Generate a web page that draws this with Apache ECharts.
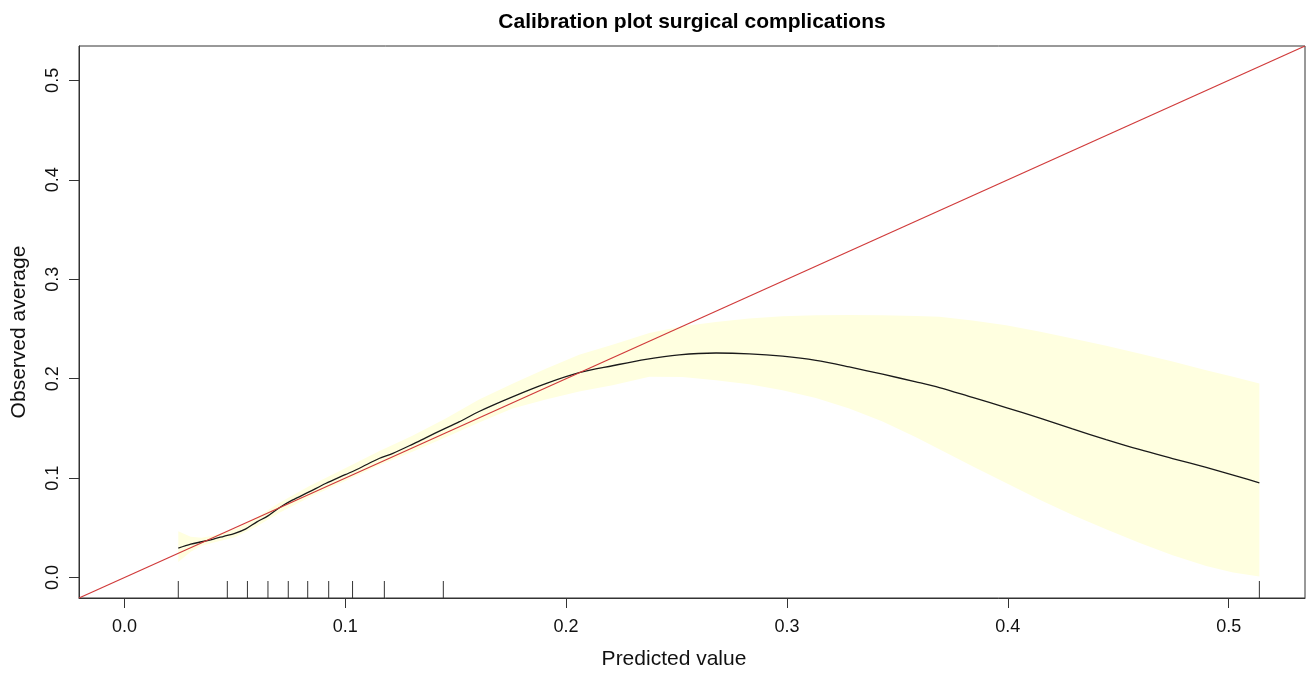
<!DOCTYPE html>
<html>
<head>
<meta charset="utf-8">
<script src="https://cdn.jsdelivr.net/npm/echarts@6/dist/echarts.min.js"></script>
<style>
  html, body { margin: 0; padding: 0; background: #fff; }
  #chart { width: 1311px; height: 674px; }
</style>
</head>
<body>
<div id="chart"></div>
<script>
// Axis limits (same on both axes) and tick labels
const axisMin = -0.02056;
const axisMax = 0.53456;
const tickValues = [0, 0.1, 0.2, 0.3, 0.4, 0.5];
const tickLabels = ['0.0', '0.1', '0.2', '0.3', '0.4', '0.5'];

// Smoothed calibration curve
const curveX = [0.0244, 0.0300, 0.0350, 0.0400, 0.0450, 0.0500, 0.0550, 0.0600, 0.0650, 0.0700,
  0.0760, 0.0836, 0.0911, 0.1000, 0.1062, 0.1153, 0.1213, 0.1304, 0.1364, 0.1455, 0.1515,
  0.1606, 0.1757, 0.1908, 0.2059, 0.2210, 0.2361, 0.2512, 0.2679, 0.2829, 0.2980, 0.3131,
  0.3282, 0.3433, 0.3584, 0.3690, 0.3840, 0.3992, 0.4142, 0.4293, 0.4445, 0.4595, 0.4746,
  0.4898, 0.5048, 0.5139];
const curveY = [0.0295, 0.0335, 0.0360, 0.0385, 0.0415, 0.0445, 0.0490, 0.0560, 0.0620, 0.0700,
  0.0778, 0.0861, 0.0946, 0.1035, 0.1097, 0.1197, 0.1247, 0.1340, 0.1405, 0.1503, 0.1565,
  0.1670, 0.1817, 0.1950, 0.2060, 0.2130, 0.2195, 0.2240, 0.2258, 0.2250, 0.2226, 0.2184,
  0.2118, 0.2045, 0.1968, 0.1911, 0.1811, 0.1710, 0.1606, 0.1495, 0.1388, 0.1288, 0.1197,
  0.1107, 0.1012, 0.0952];

// Confidence band around the curve
const bandX = [0.0244, 0.0300, 0.0350, 0.0400, 0.0500, 0.0600, 0.0700, 0.0836, 0.1000, 0.1153,
  0.1304, 0.1455, 0.1606, 0.1757, 0.1908, 0.2059, 0.2210, 0.2377, 0.2527, 0.2678, 0.2829,
  0.2980, 0.3131, 0.3282, 0.3433, 0.3584, 0.3690, 0.3840, 0.3992, 0.4142, 0.4293, 0.4445,
  0.4595, 0.4746, 0.4898, 0.5020, 0.5139];
const bandLower = [0.0157, 0.0260, 0.0320, 0.0350, 0.0405, 0.0515, 0.0650, 0.0805, 0.0970, 0.1130,
  0.1265, 0.1410, 0.1560, 0.1700, 0.1790, 0.1870, 0.1935, 0.2020, 0.2018, 0.1985, 0.1945,
  0.1884, 0.1805, 0.1700, 0.1570, 0.1410, 0.1290, 0.1120, 0.0950, 0.0785, 0.0630, 0.0485,
  0.0350, 0.0225, 0.0115, 0.0050, 0.0010];
const bandUpper = [0.0466, 0.0410, 0.0400, 0.0420, 0.0485, 0.0605, 0.0750, 0.0917, 0.1100, 0.1270,
  0.1425, 0.1600, 0.1790, 0.1950, 0.2100, 0.2240, 0.2340, 0.2460, 0.2528, 0.2571, 0.2606,
  0.2629, 0.2639, 0.2640, 0.2639, 0.2630, 0.2622, 0.2585, 0.2538, 0.2475, 0.2404, 0.2330,
  0.2253, 0.2172, 0.2085, 0.2020, 0.1952];

// Rug of predicted values along the bottom
const rugX = [0.0244, 0.0466, 0.0557, 0.0650, 0.0742, 0.0830, 0.0925, 0.1033, 0.1177, 0.1444, 0.5139];

const FONT = "'Liberation Sans', Arial, sans-serif";
const AXIS_COLOR = '#333';

function zip(a, b) { return a.map((v, i) => [v, b[i]]); }
function tickText(v) { return tickLabels[tickValues.findIndex(t => Math.abs(t - v) < 1e-9)]; }

const chart = echarts.init(document.getElementById('chart'), null, { renderer: 'canvas' });

const axisCommon = {
  type: 'value',
  min: axisMin,
  max: axisMax,
  splitLine: { show: false },
  axisLine: { show: true, onZero: false, lineStyle: { color: AXIS_COLOR, width: 1 } },
  axisTick: { show: true, inside: false, length: 10, customValues: tickValues,
              lineStyle: { color: AXIS_COLOR, width: 1 } },
};

chart.setOption({
  animation: false,
  backgroundColor: '#ffffff',
  grid: {
    left: 79, top: 46, right: 6, bottom: 76,
    show: true, borderColor: AXIS_COLOR, borderWidth: 1, backgroundColor: 'transparent'
  },
  xAxis: Object.assign({}, axisCommon, {
    axisLabel: {
      customValues: tickValues, margin: 20, formatter: tickText,
      color: '#111', fontSize: 18, fontFamily: FONT
    }
  }),
  yAxis: Object.assign({}, axisCommon, {
    axisLabel: {
      customValues: tickValues, margin: 17, rotate: 90, formatter: tickText,
      color: '#111', fontSize: 18, fontFamily: FONT
    }
  }),
  graphic: [
    { type: 'text', position: [692, 22], style: {
        text: 'Calibration plot surgical complications', fill: '#000',
        font: 'bold 21px ' + FONT, textAlign: 'center', textVerticalAlign: 'middle' } },
    { type: 'text', position: [674, 659], style: {
        text: 'Predicted value', fill: '#111',
        font: '21px ' + FONT, textAlign: 'center', textVerticalAlign: 'middle' } },
    { type: 'text', position: [19, 332], rotation: Math.PI / 2, style: {
        text: 'Observed average', fill: '#111',
        font: '21px ' + FONT, textAlign: 'center', textVerticalAlign: 'middle' } }
  ],
  series: [
    {
      // shaded confidence band
      type: 'custom',
      silent: true,
      z: 1,
      data: [[bandX[0], bandLower[0]]],
      renderItem: function (params, api) {
        const pts = [];
        for (let i = 0; i < bandX.length; i++) pts.push(api.coord([bandX[i], bandUpper[i]]));
        for (let i = bandX.length - 1; i >= 0; i--) pts.push(api.coord([bandX[i], bandLower[i]]));
        return { type: 'polygon', shape: { points: pts },
                 style: { fill: '#FFFFE0', stroke: null } };
      }
    },
    {
      // calibration curve
      type: 'line',
      z: 3,
      data: zip(curveX, curveY),
      showSymbol: false,
      smooth: 0.3,
      lineStyle: { color: '#1a1a1a', width: 1.3 }
    },
    {
      // ideal calibration line y = x
      type: 'line',
      z: 4,
      data: [[axisMin, axisMin], [axisMax, axisMax]],
      showSymbol: false,
      lineStyle: { color: '#d03a3a', width: 1.2 }
    },
    {
      // rug ticks
      type: 'custom',
      silent: true,
      z: 5,
      data: rugX.map(v => [v, axisMin]),
      renderItem: function (params, api) {
        const p = api.coord([api.value(0), api.value(1)]);
        return { type: 'line', shape: { x1: p[0], y1: p[1], x2: p[0], y2: p[1] - 17 },
                 style: { stroke: AXIS_COLOR, lineWidth: 1 } };
      }
    }
  ]
});
</script>
</body>
</html>
